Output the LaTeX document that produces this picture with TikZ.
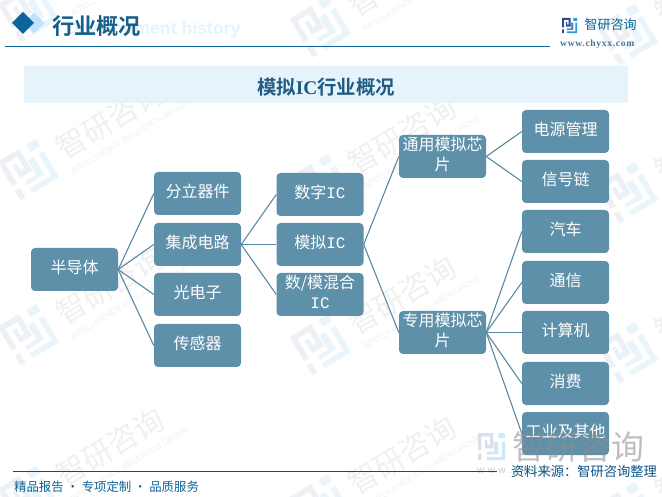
\documentclass[tikz,border=0pt]{standalone}
\usepackage{fontspec}
\setmainfont{Liberation Serif}
\newfontfamily\cjk{Noto Sans CJK SC}
\newfontfamily\cjkb{Noto Sans CJK SC Bold}
\newfontfamily\latsans{Liberation Sans}
\newfontfamily\latmono{Liberation Mono}
\newfontfamily\sitefont[LetterSpace=7]{Liberation Serif Bold}
\definecolor{boxfill}{HTML}{5F90A9}
\definecolor{linkc}{HTML}{5A8AA2}
\definecolor{band}{HTML}{E6F3FB}
\definecolor{deep}{HTML}{0B659B}
\definecolor{titlec}{HTML}{1F5C85}
\definecolor{ghost}{HTML}{E6F3FC}
\definecolor{logod}{HTML}{2F4A8C}
\definecolor{logol}{HTML}{2E9BD6}
\definecolor{wmd}{HTML}{EDF0F4}
\definecolor{wml}{HTML}{E9F4FB}
\definecolor{wmt}{HTML}{F0F0F0}
\tikzset{
  block/.style={fill=boxfill,rounded corners=4pt,minimum width=87pt,minimum height=43pt,
    inner sep=0pt,text=white,align=center,font=\fontsize{16}{20}\selectfont\cjk,
    execute at end node={\rule[-5.5pt]{0pt}{5.5pt}}},
  link/.style={draw=linkc,line width=1.1pt},
}
\newcommand{\logomark}[2]{%
  \fill[#1] (0,0) rectangle (9,2) (0,0) rectangle (2,10) (7,0) rectangle (9,7) (4,7) rectangle (9,9) (4,4) rectangle (5.5,9) (0,12) rectangle (2,16);
  \fill[#2] (12,0) rectangle (16,3) (14,5) rectangle (16,16) (5,14) rectangle (16,16) (9.5,5) rectangle (12,12) (5,11) rectangle (12,12.5);
}
\newcommand{\wmark}[3]{%
  \begin{scope}[shift={(#2,#3)},rotate=31]
    \begin{scope}[shift={(-118,-22)},scale=2.8]\logomark{wmd}{wml}\end{scope}
    \node[transform shape,text=wmt,font=\fontsize{30}{30}\selectfont\cjk] (wm#1) at (0,0) {智研咨询};
    \node[transform shape,text=wmt,font=\fontsize{8}{8}\selectfont\latsans] (wms#1) at (8,25) {INTELLIGENCE RESEARCH GROUP};
  \end{scope}}
\begin{document}
\begin{tikzpicture}[x=1pt,y=-1pt]
\useasboundingbox (0,0) rectangle (662,497);
\fill[white] (0,0) rectangle (662,497);
% watermarks
\wmark{a}{110}{-38}\wmark{b}{110}{120}\wmark{c}{110}{285}\wmark{d}{110}{447}
\wmark{e}{402}{-23}\wmark{f}{402}{135}\wmark{g}{402}{295}\wmark{h}{402}{455}
\wmark{i}{709}{-15}\wmark{j}{709}{143}\wmark{k}{709}{303}\wmark{l}{709}{463}
% header
\node[anchor=west,text=ghost,font=\fontsize{17.7}{18}\selectfont\bfseries\latsans] (ghosttext) at (62,30) {Development history};
\fill[blue!45!cyan!25!white] (34,12.5) -- (44.5,23) -- (34,33.5) -- (23.5,23) -- cycle;
\fill[deep] (23,12) -- (34,23) -- (23,34) -- (12,23) -- cycle;
\node[anchor=west,inner sep=0pt,text=titlec!70!deep,font=\fontsize{22.2}{22}\selectfont\cjkb] (headtitle) at (52,26) {行业概况};
\coordinate (hl) at (5,46.5); \coordinate (hr) at (550,46.5);
\draw[deep,line width=1pt] (hl) -- (hr);
\begin{scope}[shift={(562,18)},scale=.95]\logomark{logod}{logol}\end{scope}
\node[anchor=west,inner sep=0pt,text=deep,font=\fontsize{13}{13}\selectfont\cjk] (brand) at (584.5,25) {智研咨询};
\node[anchor=west,inner sep=0pt,text=titlec!85!white,font=\fontsize{9.6}{10}\selectfont\sitefont] (site) at (560,44.5) {www.chyxx.com};
% band
\fill[band] (24,66) rectangle (628,103);
\node[text=titlec,inner sep=0pt,font=\fontsize{19.4}{19}\selectfont\cjkb] (maintitle) at (326,87) {模拟{\fontspec{Liberation Serif Bold}IC}行业概况};
% nodes
\node[block] (semi) at (74.5,269.5) {半导体};
\node[block] (n1) at (197.5,193.5) {分立器件};
\node[block] (n2) at (197.5,244.5) {集成电路};
\node[block] (n3) at (197.5,294.5) {光电子};
\node[block] (n4) at (197.5,345.5) {传感器};
\node[block] (d1) at (320,194.5) {数字{\latmono IC}};
\node[block] (d2) at (320,244.5) {模拟{\latmono IC}};
\node[block] (d3) at (320,294.5) {数/模混合\\{\latmono IC}};
\node[block] (g1) at (442.5,156.5) {通用模拟芯\\片};
\node[block] (g2) at (442.5,332.5) {专用模拟芯\\片};
\node[block] (l1) at (565.5,131.5) {电源管理};
\node[block] (l2) at (565.5,181.5) {信号链};
\node[block] (l3) at (565.5,231.5) {汽车};
\node[block] (l4) at (565.5,282.5) {通信};
\node[block] (l5) at (565.5,332.5) {计算机};
\node[block] (l6) at (565.5,383.5) {消费};
\node[block] (l7) at (565.5,433.5) {工业及其他};
% links
\foreach \a/\b in {semi/n1,semi/n2,semi/n3,semi/n4,n2/d1,n2/d2,n2/d3,d2/g1,d2/g2,g1/l1,g1/l2,g2/l3,g2/l4,g2/l5,g2/l6,g2/l7}
  \draw[link] (\a.east) -- (\b.west);
% large bottom watermark
\begin{scope}[shift={(478,433)},scale=1.7,opacity=.5]\logomark{logod!35}{logol!45}\end{scope}
\node[anchor=west,inner sep=0pt,opacity=.55,text=black!45,font=\fontsize{33}{33}\selectfont\cjk] (bigbrand) at (512,447) {智研咨询};
\node[anchor=west,inner sep=0pt,opacity=.5,text=black!40,font=\fontsize{10}{10}\selectfont\latsans] (bigsite) at (477,471) {w\,\,w\,\,w\,\,.\,\,c\,\,h\,\,y\,\,x\,\,x};
% footer
\coordinate (fl) at (13,471.5); \coordinate (fr) at (497,471.5);
\draw[deep!80!black,line width=1pt] (fl) -- (fr);
\node[anchor=west,inner sep=0pt,text=deep,font=\fontsize{12.4}{13}\selectfont\cjk] (slogan) at (14,487) {精品报告 · 专项定制 · 品质服务};
\node[anchor=west,inner sep=0pt,text=deep!85!black,font=\fontsize{13.25}{13}\selectfont\cjk] (source) at (511,472) {资料来源：智研咨询整理};
\end{tikzpicture}
\end{document}
